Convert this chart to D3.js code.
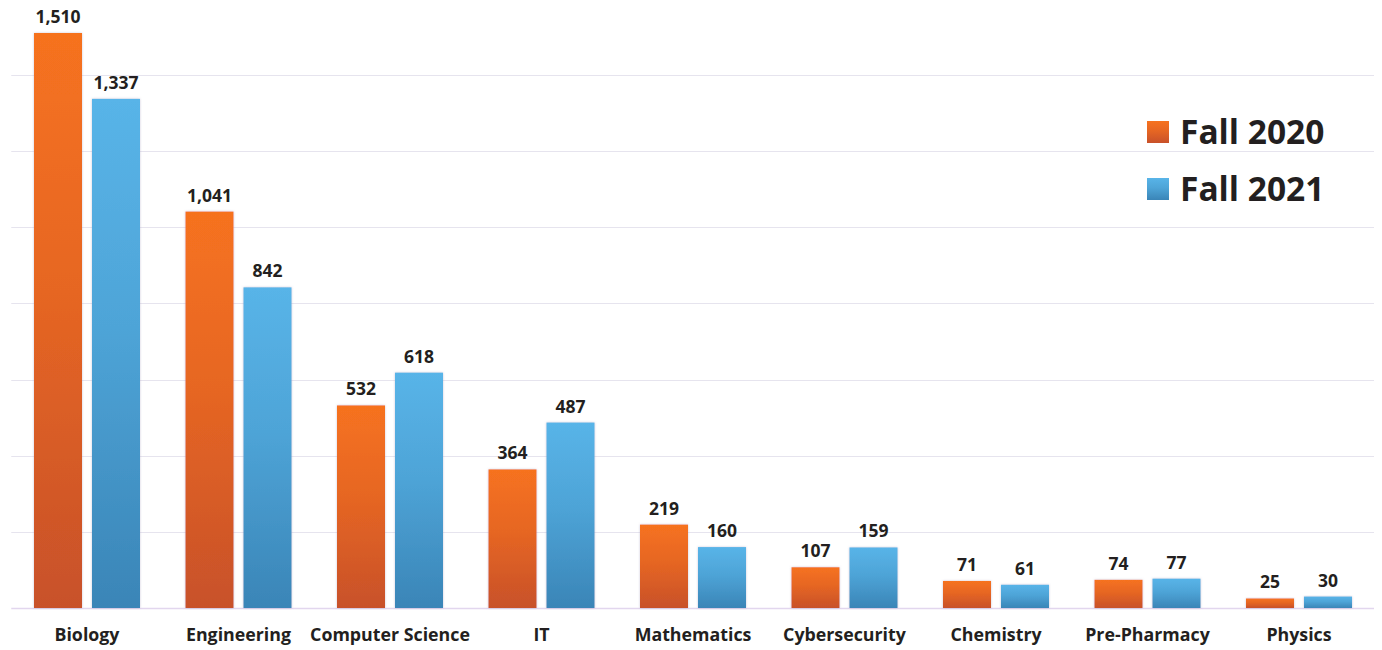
<!DOCTYPE html>
<html>
<head>
<meta charset="utf-8">
<script src="https://cdn.jsdelivr.net/npm/d3@7"></script>
<style>
  body { margin: 0; background: #fff; }
  svg text { font-family: "Open Sans", "Noto Sans", sans-serif; font-weight: 700; fill: #231f20; }
</style>
</head>
<body>
<svg id="chart" width="1382" height="650"></svg>
<script>
const categories = ['Biology', 'Engineering', 'Computer Science', 'IT', 'Mathematics', 'Cybersecurity', 'Chemistry', 'Pre-Pharmacy', 'Physics']
const series = ['Fall 2020', 'Fall 2021']
const fall2020 = [1510, 1041, 532, 364, 219, 107, 71, 74, 25]
const fall2021 = [1337, 842, 618, 487, 160, 159, 61, 77, 30]
const gridTicks = [0, 200, 400, 600, 800, 1000, 1200, 1400]

const svg = d3.select('#chart')
const margin = { left: 11.25, right: 7.25, top: 33, bottom: 42 }
const width = 1382, height = 650

const x = d3.scaleBand().domain(categories).range([margin.left, width - margin.right]).paddingInner(0).paddingOuter(0)
// inner scale: 48px bars, 10px gap, rest as outer padding inside each band
const xs = d3.scaleBand().domain(series).range([0, x.bandwidth()]).paddingInner(10 / 58).paddingOuter((x.bandwidth() - 106) / 2 / 58)
const y = d3.scaleLinear().domain([0, 1510]).range([height - margin.bottom, margin.top])

// gradients
const defs = svg.append('defs')
const grads = [
  { id: 'g0', top: '#f6721f', bot: '#c8512a' },
  { id: 'g1', top: '#58b4e8', bot: '#3a85b7' },
]
grads.forEach(g => {
  const lg = defs.append('linearGradient').attr('id', g.id).attr('x1', 0).attr('y1', 0).attr('x2', 0).attr('y2', 1)
  lg.append('stop').attr('offset', '0%').attr('stop-color', g.top)
  lg.append('stop').attr('offset', '45%').attr('stop-color', d3.interpolateRgb(g.top, g.bot)(0.35))
  lg.append('stop').attr('offset', '100%').attr('stop-color', g.bot)
})
const f = defs.append('filter').attr('id', 'shadow').attr('x', -0.1).attr('y', -0.1).attr('width', 1.2).attr('height', 1.2)
f.append('feDropShadow').attr('dx', 0).attr('dy', 0).attr('stdDeviation', 1).attr('flood-color', '#9a8fb0').attr('flood-opacity', 0.5)

// gridlines
svg.append('g').selectAll('line').data(gridTicks).join('line')
  .attr('x1', margin.left).attr('x2', 1374)
  .attr('y1', d => Math.round(y(d)) + 0.5).attr('y2', d => Math.round(y(d)) + 0.5)
  .attr('stroke', d => d === 0 ? '#e2d6ee' : '#e6e4ee').attr('stroke-width', d => d === 0 ? 1.5 : 1)

const data = [fall2020, fall2021]

const groups = svg.append('g').selectAll('g').data(categories).join('g')
  .attr('transform', d => `translate(${x(d)},0)`)

series.forEach((s, si) => {
  groups.append('rect')
    .attr('x', xs(s))
    .attr('width', xs.bandwidth())
    .attr('y', (d, i) => y(data[si][i]))
    .attr('height', (d, i) => y(0) - y(data[si][i]))
    .attr('fill', `url(#g${si})`)
    .attr('filter', 'url(#shadow)')
  groups.append('text')
    .attr('x', xs(s) + xs.bandwidth() / 2)
    .attr('y', (d, i) => y(data[si][i]) - 10)
    .attr('text-anchor', 'middle')
    .attr('font-size', 17.5)
    .text((d, i) => d3.format(',')(data[si][i]))
})

// category labels
svg.append('g').selectAll('text').data(categories).join('text')
  .attr('x', d => x(d) + x.bandwidth() / 2)
  .attr('y', 641)
  .attr('text-anchor', 'middle')
  .attr('font-size', 17.8)
  .text(d => d)

// legend
const legend = svg.append('g').attr('transform', 'translate(1147,121)')
series.forEach((s, i) => {
  const g = legend.append('g').attr('transform', `translate(0,${i * 57})`)
  g.append('rect').attr('width', 22).attr('height', 22).attr('fill', `url(#g${i})`)
  g.append('text').attr('x', 33).attr('y', 22.5).attr('font-size', 33.5).text(s)
})
</script>
</body>
</html>
